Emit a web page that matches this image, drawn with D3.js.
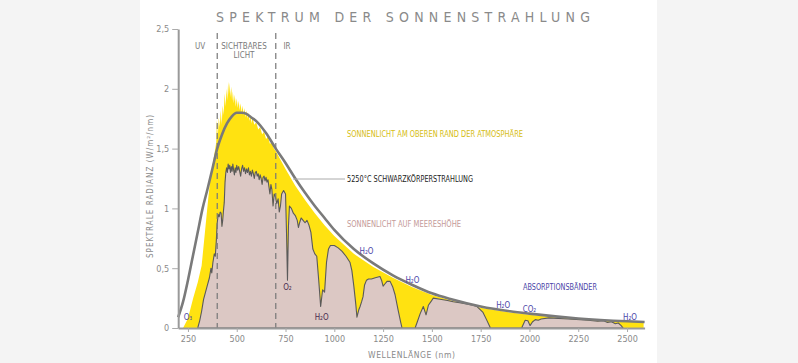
<!DOCTYPE html>
<html>
<head>
<meta charset="utf-8">
<script src="https://cdn.jsdelivr.net/npm/d3@7/dist/d3.min.js"></script>
<style>
  body { margin: 0; background: #f4f4f4; }
  svg { display: block; }
  text { font-family: "DejaVu Sans Condensed", "DejaVu Sans", sans-serif; }
</style>
</head>
<body>
<svg id="chart" width="798" height="363"></svg>
<script>
// values: [wavelength nm, W/m2/nm]
var toa = [[225,0],[250,0.08],[277,0.25],[300,0.38],[320,0.52],[340,0.85],[355,1.1],[365,1.25],[380,1.4],[390,1.5],
  [395,1.55],[398,1.74],[403,1.6],[408,1.76],[413,1.68],[418,1.82],[423,1.7],[428,1.86],[433,1.78],[438,1.96],
  [443,1.85],[448,2.0],[452,1.9],[456,2.06],[460,1.95],[464,2.05],[468,1.93],[472,2.02],[476,1.9],[480,1.98],
  [485,1.88],[490,1.95],[495,1.85],[500,1.92],[505,1.84],[510,1.9],[515,1.82],[520,1.88],[525,1.8],[530,1.86],
  [535,1.78],[540,1.84],[545,1.76],[550,1.82],[555,1.75],[560,1.8],[565,1.73],[570,1.78],[575,1.71],[580,1.76],
  [590,1.7],[600,1.72],[610,1.66],[620,1.68],[630,1.62],[640,1.64],[650,1.58],[660,1.6],[670,1.54],[680,1.55],
  [690,1.5],[700,1.48],[720,1.42],[750,1.33],[800,1.19],[850,1.07],[900,0.96],[950,0.86],[1000,0.77],[1100,0.62],
  [1200,0.51],[1300,0.42],[1400,0.34],[1500,0.275],[1600,0.23],[1750,0.17],[1900,0.13],[2000,0.11],[2100,0.095],
  [2200,0.082],[2300,0.072],[2400,0.063],[2500,0.054],[2585,0.048],[2585,0]];

var seaLevel = [[300,0],[310,0.06],[320,0.14],[330,0.24],[340,0.3],[350,0.36],[360,0.42],[368,0.5],[372,0.46],
  [378,0.55],[385,0.62],[390,0.6],[395,0.72],[400,0.88],[405,0.95],[410,0.93],[415,0.97],[420,0.96],[424,0.85],
  [428,0.9],[432,0.98],[436,1.05],[440,1.22],[444,1.3],[448,1.34],[452,1.3],[456,1.37],[460,1.33],[464,1.36],
  [468,1.3],[472,1.35],[476,1.31],[480,1.37],[484,1.32],[488,1.28],[492,1.34],[496,1.3],[500,1.36],[505,1.32],
  [510,1.35],[515,1.31],[520,1.27],[525,1.33],[530,1.36],[535,1.31],[540,1.34],[545,1.29],[550,1.33],[555,1.3],
  [560,1.34],[565,1.28],[570,1.31],[575,1.27],[580,1.32],[585,1.29],[590,1.25],[595,1.3],[600,1.31],[605,1.27],
  [610,1.29],[615,1.24],[620,1.28],[625,1.25],[630,1.2],[635,1.26],[640,1.27],[645,1.23],[650,1.26],[655,1.22],
  [660,1.24],[665,1.18],[670,1.12],[675,1.2],[680,1.16],[686,1.02],[692,1.12],[698,1.1],[705,1.04],[712,1.08],
  [718,0.97],[724,1.02],[730,1.12],[740,1.15],[750,1.12],[755,0.8],[760,0.4],[765,0.85],[770,1.02],[780,1.0],
  [790,0.96],[800,0.94],[810,0.9],[816,0.84],[822,0.88],[830,0.92],[840,0.9],[850,0.88],[860,0.9],[870,0.86],
  [880,0.8],[890,0.66],[900,0.62],[910,0.6],[920,0.4],[930,0.18],[940,0.32],[950,0.3],[960,0.55],[970,0.66],
  [980,0.69],[1000,0.69],[1020,0.67],[1040,0.64],[1060,0.6],[1080,0.55],[1090,0.48],[1100,0.35],[1110,0.2],
  [1116,0.09],[1125,0.15],[1132,0.18],[1140,0.22],[1147,0.26],[1155,0.36],[1165,0.4],[1175,0.41],[1190,0.41],
  [1210,0.42],[1234,0.43],[1242,0.4],[1250,0.35],[1260,0.37],[1270,0.39],[1286,0.39],[1300,0.34],[1311,0.28],
  [1327,0.15],[1340,0.05],[1347,0],[1414,0],[1425,0.05],[1440,0.12],[1456,0.18],[1470,0.11],[1482,0.19],
  [1495,0.22],[1507,0.25],[1542,0.24],[1580,0.23],[1609,0.22],[1650,0.21],[1678,0.2],[1710,0.19],[1730,0.18],
  [1762,0.13],[1780,0.07],[1800,0],[1960,0],[1968,0.03],[1978,0.065],[1992,0.06],[2003,0.02],[2015,0.05],
  [2030,0.07],[2045,0.065],[2060,0.075],[2100,0.085],[2200,0.075],[2300,0.065],[2350,0.056],[2380,0.06],
  [2400,0.046],[2420,0.052],[2440,0.036],[2455,0.042],[2470,0.02],[2480,0]];

var blackBody = [[200,0.09],[225,0.22],[250,0.4],[275,0.6],[300,0.8],[325,1.0],[350,1.16],[375,1.33],[400,1.5],
  [425,1.62],[450,1.71],[475,1.77],[500,1.8],[525,1.8],[550,1.79],[575,1.76],[600,1.73],[650,1.63],[700,1.5],
  [750,1.38],[800,1.25],[850,1.13],[900,1.02],[950,0.92],[1000,0.82],[1100,0.66],[1200,0.54],[1300,0.44],
  [1400,0.36],[1500,0.29],[1600,0.24],[1750,0.18],[1900,0.14],[2000,0.12],[2250,0.08],[2500,0.056],[2590,0.05]];

var xTicks = [250,500,750,1000,1250,1500,1750,2000,2250,2500];
var yTicks = [0,0.5,1,1.5,2,2.5];
var bandEdges = [400,700];

// absorption labels: [wavelength position, value position, text, colour]
var absorption = [[250,0.07,"O₃","#4b46a8"],[760,0.32,"O₂","#4a2c50"],[935,0.07,"H₂O","#4a2c50"],
  [1165,0.62,"H₂O","#4b46a8"],[1400,0.38,"H₂O","#4b46a8"],[1865,0.17,"H₂O","#4b46a8"],
  [2000,0.13,"CO₂","#4b46a8"],[2515,0.07,"H₂O","#4b46a8"]];

var svg = d3.select("#chart");

svg.append("rect").attr("x", 140).attr("y", 0).attr("width", 517).attr("height", 363).attr("fill", "#fff");

var x = d3.scaleLinear().domain([200, 2590]).range([178.2, 644.6]);
var y = d3.scaleLinear().domain([0, 2.5]).range([328, 29]);

var area = d3.area()
    .x(function(d) { return x(d[0]); })
    .y0(y(0))
    .y1(function(d) { return y(d[1]); });

var line = d3.line()
    .x(function(d) { return x(d[0]); })
    .y(function(d) { return y(d[1]); });

svg.append("path").datum(toa)
    .attr("d", area)
    .attr("fill", "#ffe211");

svg.append("path").datum(seaLevel)
    .attr("d", area)
    .attr("fill", "#dcc8c4")
    .attr("stroke", "#5a5a5a")
    .attr("stroke-width", 1.1)
    .attr("stroke-linejoin", "round");

svg.append("path").datum(blackBody)
    .attr("d", line.curve(d3.curveMonotoneX))
    .attr("fill", "none")
    .attr("stroke", "#7a7a7a")
    .attr("stroke-width", 2.6);

// band borders
svg.selectAll(".band").data(bandEdges).enter().append("line")
    .attr("x1", function(d) { return x(d); })
    .attr("x2", function(d) { return x(d); })
    .attr("y1", 33).attr("y2", y(0))
    .attr("stroke", "#777")
    .attr("stroke-width", 1.2)
    .attr("stroke-dasharray", "6,4");

// axes
var yAxis = svg.append("g")
    .attr("transform", "translate(" + x(200) + ",0)")
    .call(d3.axisLeft(y).tickValues(yTicks).tickSize(6).tickSizeOuter(0).tickPadding(3)
        .tickFormat(function(d) { return String(d).replace(".", ","); }));

var xAxis = svg.append("g")
    .attr("transform", "translate(0," + y(0) + ")")
    .call(d3.axisBottom(x).tickValues(xTicks).tickSize(4).tickSizeOuter(0).tickPadding(4)
        .tickFormat(d3.format("d")));

[yAxis, xAxis].forEach(function(g) {
    g.select(".domain").attr("stroke", "#9a9a9a").attr("stroke-width", 2);
    g.selectAll(".tick line").attr("stroke", "#aaa");
    g.selectAll(".tick text").attr("fill", "#8a8a8a").attr("font-size", 9)
        .style("font-family", "\"DejaVu Sans Condensed\", sans-serif");
});

// titles
svg.append("text")
    .attr("x", 216).attr("y", 22)
    .attr("textLength", 374).attr("lengthAdjust", "spacing")
    .attr("font-size", 14).attr("fill", "#8a8a8a")
    .text("SPEKTRUM DER SONNENSTRAHLUNG");

svg.append("text")
    .attr("transform", "translate(153,258) rotate(-90)")
    .attr("textLength", 143).attr("lengthAdjust", "spacing")
    .attr("font-size", 8).attr("fill", "#8a8a8a")
    .text("SPEKTRALE RADIANZ (W/m²/nm)");

svg.append("text")
    .attr("x", 368).attr("y", 358)
    .attr("textLength", 87).attr("lengthAdjust", "spacing")
    .attr("font-size", 8.5).attr("fill", "#8a8a8a")
    .text("WELLENLÄNGE (nm)");

// band names
var bandLabels = [[200,49,"UV"],[244,49,"SICHTBARES"],[244,57.5,"LICHT"],[287,49,"IR"]];
svg.selectAll(".bandLabel").data(bandLabels).enter().append("text")
    .attr("x", function(d) { return d[0]; })
    .attr("y", function(d) { return d[1]; })
    .attr("text-anchor", "middle")
    .attr("font-size", 8).attr("fill", "#7a7a7a")
    .text(function(d) { return d[2]; });

// series labels
svg.append("line")
    .attr("x1", 293).attr("x2", 345).attr("y1", 179).attr("y2", 179)
    .attr("stroke", "#aaa").attr("stroke-width", 1);

var seriesLabels = [[137, "SONNENLICHT AM OBEREN RAND DER ATMOSPHÄRE", "#d6bd12", 176],
  [182, "5250°C SCHWARZKÖRPERSTRAHLUNG", "#222", 126],
  [227, "SONNENLICHT AUF MEERESHÖHE", "#c49a98", 114]];
svg.selectAll(".seriesLabel").data(seriesLabels).enter().append("text")
    .attr("x", 347)
    .attr("y", function(d) { return d[0]; })
    .attr("textLength", function(d) { return d[3]; })
    .attr("lengthAdjust", "spacingAndGlyphs")
    .attr("font-size", 8.5)
    .attr("fill", function(d) { return d[2]; })
    .text(function(d) { return d[1]; });

svg.selectAll(".absLabel").data(absorption).enter().append("text")
    .attr("x", function(d) { return x(d[0]); })
    .attr("y", function(d) { return y(d[1]); })
    .attr("text-anchor", "middle")
    .attr("font-size", 8)
    .attr("fill", function(d) { return d[3]; })
    .text(function(d) { return d[2]; });

svg.append("text")
    .attr("x", 523).attr("y", 290)
    .attr("textLength", 74).attr("lengthAdjust", "spacingAndGlyphs")
    .attr("font-size", 8).attr("fill", "#4b46a8")
    .text("ABSORPTIONSBÄNDER");
</script>
</body>
</html>
